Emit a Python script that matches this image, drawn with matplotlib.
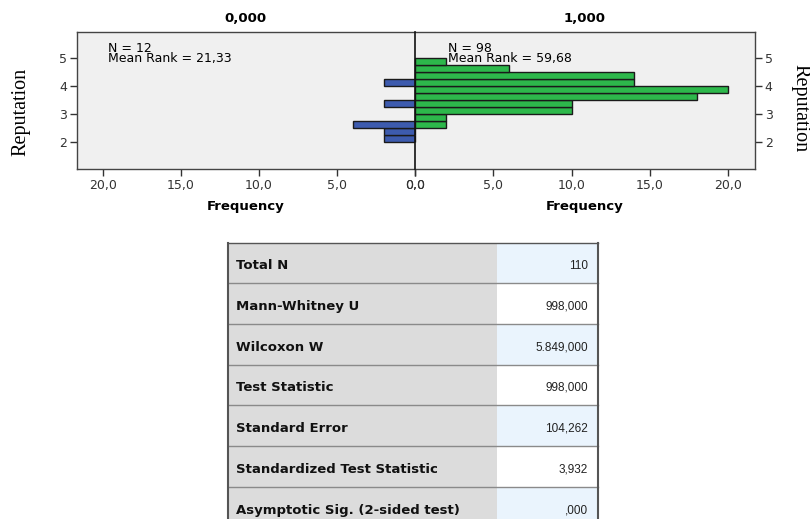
import matplotlib
matplotlib.use("Agg")
import matplotlib.pyplot as plt
from matplotlib.patches import Rectangle

plt.rcParams['font.family'] = ['DejaVu Sans']

# histogram bins of Reputation (lower edges), width 0.25
bin_lo = [2.0, 2.25, 2.5, 2.75, 3.0, 3.25, 3.5, 3.75, 4.0, 4.25, 4.5, 4.75]
bin_w = 0.25
freq_0 = [2, 2, 4, 0, 0, 2, 0, 0, 2, 0, 0, 0]
freq_1 = [0, 0, 2, 2, 10, 10, 18, 20, 14, 14, 6, 2]
groups = ["0,000", "1,000"]
n_text = ["N = 12", "N = 98"]
rank_text = ["Mean Rank = 21,33", "Mean Rank = 59,68"]

xticks = [0, 5, 10, 15, 20]
xtick_labels = ["0,0", "5,0", "10,0", "15,0", "20,0"]
yticks = [2, 3, 4, 5]

tbl_labels = ["Total N", "Mann-Whitney U", "Wilcoxon W", "Test Statistic",
              "Standard Error", "Standardized Test Statistic",
              "Asymptotic Sig. (2-sided test)"]
tbl_values = ["110", "998,000", "5.849,000", "998,000", "104,262", "3,932", ",000"]

W, H = 810, 519
fig = plt.figure(figsize=(W / 100, H / 100), dpi=100)
fig.patch.set_facecolor("white")

left, mid, right = 76.5, 415, 755
top, bot = 32, 169
ax0 = fig.add_axes([left / W, 1 - bot / H, (mid - left) / W, (bot - top) / H])
ax1 = fig.add_axes([mid / W, 1 - bot / H, (right - mid) / W, (bot - top) / H])

xmax = 21.7
panels = [(ax0, freq_0, "#3D5BAE", 0.093), (ax1, freq_1, "#2DB84B", 0.097)]
for k, (ax, freq, col, tx) in enumerate(panels):
    ax.set_facecolor("#F0F0F0")
    ax.barh(bin_lo, freq, height=bin_w, align="edge", color=col,
            edgecolor="#1a1a1a", linewidth=1.0, zorder=3)
    ax.set_ylim(1.02, 5.93)
    ax.set_xticks(xticks)
    ax.set_xticklabels(xtick_labels, fontsize=9, color="#333333")
    ax.set_yticks(yticks)
    ax.set_yticklabels([str(t) for t in yticks], fontsize=9, color="#333333")
    ax.tick_params(length=5, width=1, color="#333333", pad=2)
    for s in ax.spines.values():
        s.set_color("#444444")
        s.set_linewidth(1.0)
    ax.set_title(groups[k], fontsize=9.5, fontweight="bold", pad=7)
    ax.set_xlabel("Frequency", fontsize=9.5, fontweight="bold", labelpad=6)
    ax.text(tx, 0.93, n_text[k] + "\n" + rank_text[k], transform=ax.transAxes,
            fontsize=9, va="top", linespacing=0.78, zorder=6)

ax0.set_xlim(xmax, 0)
ax1.set_xlim(0, xmax)
ax1.yaxis.tick_right()
ax0.spines["right"].set_visible(False)
ax1.spines["left"].set_linewidth(1.2)
ax1.spines["left"].set_color("#111111")
ax1.spines["left"].set_zorder(5)

fig.text(20.5 / W, 1 - 112 / H, "Reputation", family="Liberation Serif",
         fontsize=14.5, rotation=90, ha="center", va="center")
fig.text(800 / W, 1 - 108 / H, "Reputation", family="Liberation Serif",
         fontsize=14.5, rotation=-90, ha="center", va="center")

# summary table
tax = fig.add_axes([0, 0, 1, 1])
tax.set_xlim(0, W)
tax.set_ylim(H, 0)
tax.axis("off")
tx0, tx1, tx2 = 228, 497, 598
ty0, rh = 242.5, 40.7
for i, (lab, val) in enumerate(zip(tbl_labels, tbl_values)):
    y = ty0 + i * rh
    tax.add_patch(Rectangle((tx0, y), tx1 - tx0, rh, facecolor="#DCDCDC", edgecolor="none"))
    tax.add_patch(Rectangle((tx1, y), tx2 - tx1, rh,
                            facecolor="#EAF4FD" if i % 2 == 0 else "white", edgecolor="none"))
    tax.plot([tx0, tx2], [y, y], color="#8A8A8A" if i else "#555555", lw=1)
    tax.text(tx0 + 8, y + rh / 2 + 3, lab, fontsize=9.5, fontweight="bold",
             va="center", ha="left", color="#111111")
    tax.text(tx2 - 10, y + rh / 2 + 3, val, family="Liberation Sans", fontsize=8.5,
             va="center", ha="right", color="#222222")
tax.plot([tx0, tx0], [ty0, H], color="#555555", lw=1.5)
tax.plot([tx2, tx2], [ty0, H], color="#555555", lw=1.5)

fig.savefig("out.png", dpi=100)
